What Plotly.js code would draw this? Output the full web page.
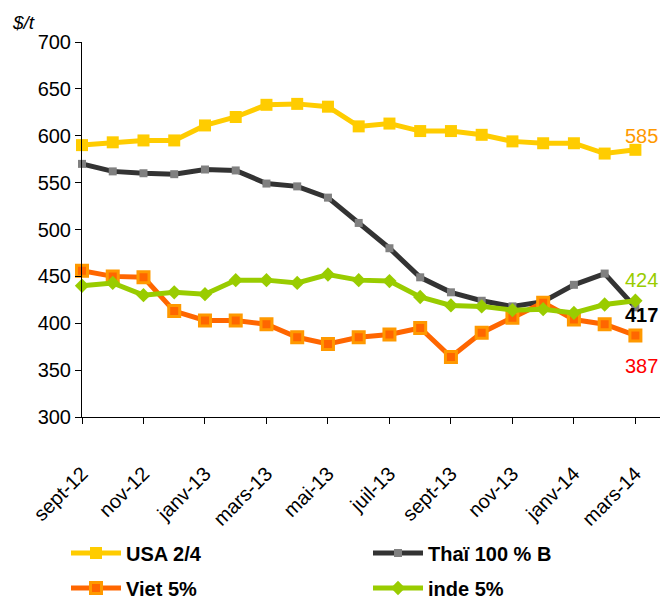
<!DOCTYPE html>
<html>
<head>
<meta charset="utf-8">
<script src="https://cdn.plot.ly/plotly-3.0.1.min.js"></script>
<style>html,body{margin:0;padding:0;background:#fff;}#chart{width:665px;height:600px;}</style>
</head>
<body>
<div id="chart"></div>
<script>
const months = ["sept-12","oct-12","nov-12","déc-12","janv-13","févr-13","mars-13","avr-13","mai-13","juin-13","juil-13","août-13","sept-13","oct-13","nov-13","déc-13","janv-14","févr-14","mars-14"];
const usa   = [590, 593, 595, 595, 611, 620, 633, 634, 631, 610, 613, 605, 605, 601, 594, 592, 592, 581, 585];
const thai  = [570, 562, 560, 559, 564, 563, 549, 546, 534, 507, 480, 449, 433, 424, 418, 423, 441, 453, 417];
const viet  = [456, 450, 449, 413, 403, 403, 399, 385, 378, 385, 388, 395, 364, 390, 406, 422, 404, 399, 387];
const inde  = [440, 443, 430, 433, 431, 446, 446, 443, 452, 446, 445, 428, 419, 418, 414, 415, 411, 420, 424];
const seriesNames = ["USA 2/4", "Thaï 100 % B", "Viet 5%", "inde 5%"];
const tickIdx = [0, 2, 4, 6, 8, 10, 12, 14, 16, 18];

const xs = months.map((m, i) => i);
const FONT = "Liberation Sans, Arial, sans-serif";

const traces = [
  {x: xs, y: usa, name: seriesNames[0], mode: "lines+markers", legend: "legend",
   line: {color: "#FFCC00", width: 5}, marker: {symbol: "square", size: 12, color: "#FFCC00"}, cliponaxis: false},
  {x: xs, y: thai, name: seriesNames[1], mode: "lines+markers", legend: "legend2",
   line: {color: "#333333", width: 5}, marker: {symbol: "square", size: 8, color: "#808080"}, cliponaxis: false},
  {x: xs, y: viet, name: seriesNames[2], mode: "lines+markers", legend: "legend3",
   line: {color: "#FF6600", width: 5}, marker: {symbol: "square", size: 11, color: "#FF6600", line: {color: "#FF9900", width: 3}}, cliponaxis: false},
  {x: xs, y: inde, name: seriesNames[3], mode: "lines+markers", legend: "legend4",
   line: {color: "#99CC00", width: 5}, marker: {symbol: "diamond", size: 11, color: "#99CC00"}, cliponaxis: false}
];

const last = months.length - 1;
const labelSpecs = [
  {y: usa[last], color: "#FF9900", shift: 14, bold: false},
  {y: inde[last], color: "#99CC00", shift: 21, bold: false},
  {y: thai[last], color: "#000000", shift: -8, bold: true},
  {y: viet[last], color: "#FF0000", shift: -31, bold: false}
];

const annotations = labelSpecs.map(s => ({
  x: last, y: s.y, xref: "x", yref: "y", text: s.bold ? "<b>" + Math.round(s.y) + "</b>" : String(Math.round(s.y)),
  showarrow: false, xanchor: "center", yanchor: "middle", xshift: 6, yshift: s.shift,
  font: {family: FONT, size: 20, color: s.color}
}));
annotations.push({
  text: "<i>$/t</i>", xref: "paper", yref: "paper", x: (10 - 82) / 578, y: (417 - 22) / 375, xanchor: "left", yanchor: "middle",
  showarrow: false, font: {family: FONT, size: 19, color: "#000"}
});

function leg(xpx, ypx) {
  return {
    orientation: "h", xref: "container", yref: "container", x: xpx / 665, y: 1 - ypx / 600,
    xanchor: "left", yanchor: "middle", itemwidth: 50, bgcolor: "rgba(0,0,0,0)",
    font: {family: FONT, size: 20, color: "#000", weight: "bold"}
  };
}

const layout = {
  width: 665, height: 600,
  margin: {l: 82, r: 5, t: 42, b: 183},
  paper_bgcolor: "#fff", plot_bgcolor: "#fff",
  font: {family: FONT, size: 20, color: "#000"},
  showlegend: true,
  legend: leg(66, 553),
  legend2: leg(368, 553),
  legend3: leg(66, 588),
  legend4: leg(368, 588),
  xaxis: {
    range: [0, 18.8], tickmode: "array", tickvals: tickIdx, ticktext: tickIdx.map(i => months[i]),
    tickangle: -45, ticks: "outside", ticklen: 6, tickcolor: "#000", showline: true, linecolor: "#000", linewidth: 1,
    showgrid: false, zeroline: false, ticklabelstandoff: 30, tickfont: {family: FONT, size: 20, color: "#000"}
  },
  yaxis: {
    range: [300, 700], dtick: 50, tick0: 300, ticks: "outside", ticklen: 6, tickcolor: "#000",
    showline: true, linecolor: "#000", linewidth: 1, showgrid: false, zeroline: false,
    tickfont: {family: FONT, size: 20, color: "#000"}
  },
  annotations: annotations
};

Plotly.newPlot("chart", traces, layout, {displayModeBar: false, staticPlot: true});
</script>
</body>
</html>
